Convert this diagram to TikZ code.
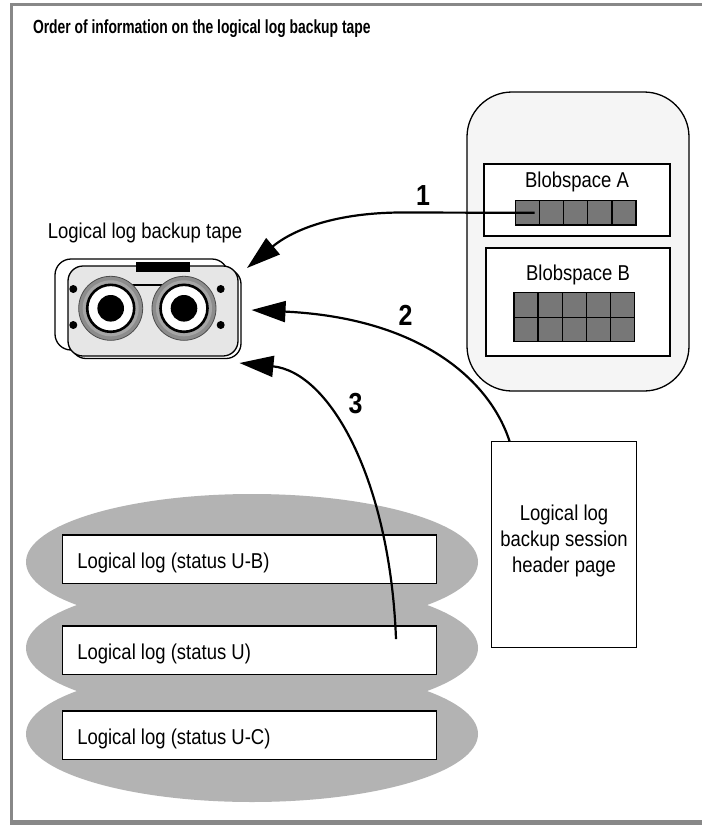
\documentclass[tikz,border=0pt]{standalone}
\usepackage{fontspec}
\setmainfont{Liberation Sans}[FakeStretch=0.86]
\newfontfamily\titlefont{Liberation Sans}[FakeStretch=0.73]
\usetikzlibrary{arrows.meta}
\definecolor{framegray}{RGB}{136,136,136}
\definecolor{diskgray}{RGB}{179,179,179}
\definecolor{cellgray}{RGB}{119,119,119}
\definecolor{panelgray}{RGB}{245,245,245}
\definecolor{tapegray}{RGB}{230,230,230}
\definecolor{reelgray}{RGB}{140,140,140}
\definecolor{reellight}{RGB}{165,165,165}

\begin{document}
\begin{tikzpicture}[x=1pt,y=-1pt,
  every node/.style={inner sep=0pt, outer sep=0pt},
  txt/.style={font=\fontsize{21.5}{26}\selectfont},
  box/.style={draw=black, line width=1.4pt, fill=white},
  cell/.style={draw=black, line width=1.2pt, fill=cellgray, minimum width=24pt, minimum height=24.3pt},
  num/.style={font=\fontsize{29}{30}\selectfont\bfseries, anchor=base},
  flow/.style={line width=2.2pt, -{Triangle[length=34pt,width=21pt]}},
  disk/.style={fill=diskgray, draw=none},
  outline/.style={draw=black, line width=1.3pt},
]
\useasboundingbox (0,0) rectangle (702,825);
\fill[white] (0,0) rectangle (702,825);

% page frame
\draw[framegray, line width=2.5pt] (10,4.5) -- (702,4.5);
\draw[framegray, line width=3pt] (11.7,3.2) -- (11.7,825);
\draw[framegray, line width=5pt] (10,822.5) -- (702,822.5);

% heading
\node[anchor=base west, font=\titlefont\bfseries\fontsize{19}{22}\selectfont] (title) at (33,33.5)
  {Order of information on the logical log backup tape};

% blobspace store
\node[outline, fill=panelgray, rounded corners=45pt, minimum width=222pt, minimum height=299pt] (store) at (578,241.5) {};
\node[box, minimum width=186pt, minimum height=72pt] (blobA) at (577,200) {};
\node[box, minimum width=184pt, minimum height=108pt] (blobB) at (578,302) {};
\node[txt, anchor=base] (labelA) at (577,187.3) {Blobspace A};
\node[txt, anchor=base] (labelB) at (578,280) {Blobspace B};
\foreach \i in {0,...,4} {
  \node[cell] (a\i) at (527.7+24.06*\i,212.8) {};
  \node[cell] (b\i) at (526+24.1*\i,305) {};
  \node[cell] (c\i) at (526+24.1*\i,329.4) {};
}

% tape cartridge
\draw[outline, fill=white, rounded corners=16pt] (55,259) rectangle (228,350);
\draw[outline, fill=white, rounded corners=15pt] (71,269) rectangle (241,358.5);
\draw[outline, fill=tapegray, rounded corners=15pt] (68,266) rectangle (238,356);
\fill (135.7,261.7) rectangle (190,271.7);
\draw[line width=1.2pt] (125,285) -- (170,285);
\coordinate (reelL) at (110.7,308.3);
\coordinate (reelR) at (184,308.3);
\foreach \r in {reelL,reelR} {
  \fill[reelgray] (\r) circle (32);
  \draw[black!70, line width=0.8pt] (\r) circle (32);
  \fill[reellight] (\r) circle (28);
  \draw[line width=2.6pt, fill=white] (\r) circle (23.5);
  \fill (\r) circle (13.3);
}
\foreach \p in {(73.3,289),(73.3,325),(220.7,289),(220.7,325)}
  \fill \p circle (4);
\node[txt, anchor=base] (tapelabel) at (145,238) {Logical log backup tape};

% logical log disks
\fill[disk] (252,734) ellipse (226 and 68);
\fill[disk] (252,648) ellipse (226 and 68);
\fill[disk] (252,562) ellipse (226 and 68);
\node[box, minimum width=374pt, minimum height=48.3pt] (log1) at (249.7,559.2) {};
\node[box, minimum width=374pt, minimum height=48.3pt] (log2) at (249.7,650.2) {};
\node[box, minimum width=374pt, minimum height=48.3pt] (log3) at (249.7,735.2) {};
\node[txt, anchor=base west] (t1) at (77.3,568.2) {Logical log (status U-B)};
\node[txt, anchor=base west] (t2) at (77.3,659.2) {Logical log (status U)};
\node[txt, anchor=base west] (t3) at (77.3,744.2) {Logical log (status U-C)};

% session header page
\node[box, minimum width=145pt, minimum height=206pt] (hdr) at (564.2,544.7) {};
\node[txt, anchor=base] (h1) at (564,520) {Logical log};
\node[txt, anchor=base] (h2) at (564,546) {backup session};
\node[txt, anchor=base] (h3) at (564,572) {header page};

% order of writing to tape
\coordinate (tip1) at (247,268);
\coordinate (tip2) at (251.5,310);
\coordinate (tip3) at (239.5,363);
\draw[flow] ([xshift=7pt]a0.center) -- (400,212.5) .. controls (330,213) and (290,232) .. (tip1);
\draw[flow] ([xshift=18pt]hdr.north west) .. controls (490,380) and (420,318) .. (tip2);
\draw[flow] ([xshift=-40.7pt,yshift=-13pt]log2.north east) .. controls (390,480) and (330,372) .. (tip3);
\node[num] (n1) at (423,205) {1};
\node[num] (n2) at (405.5,325) {2};
\node[num] (n3) at (355.5,413) {3};
\end{tikzpicture}
\end{document}
